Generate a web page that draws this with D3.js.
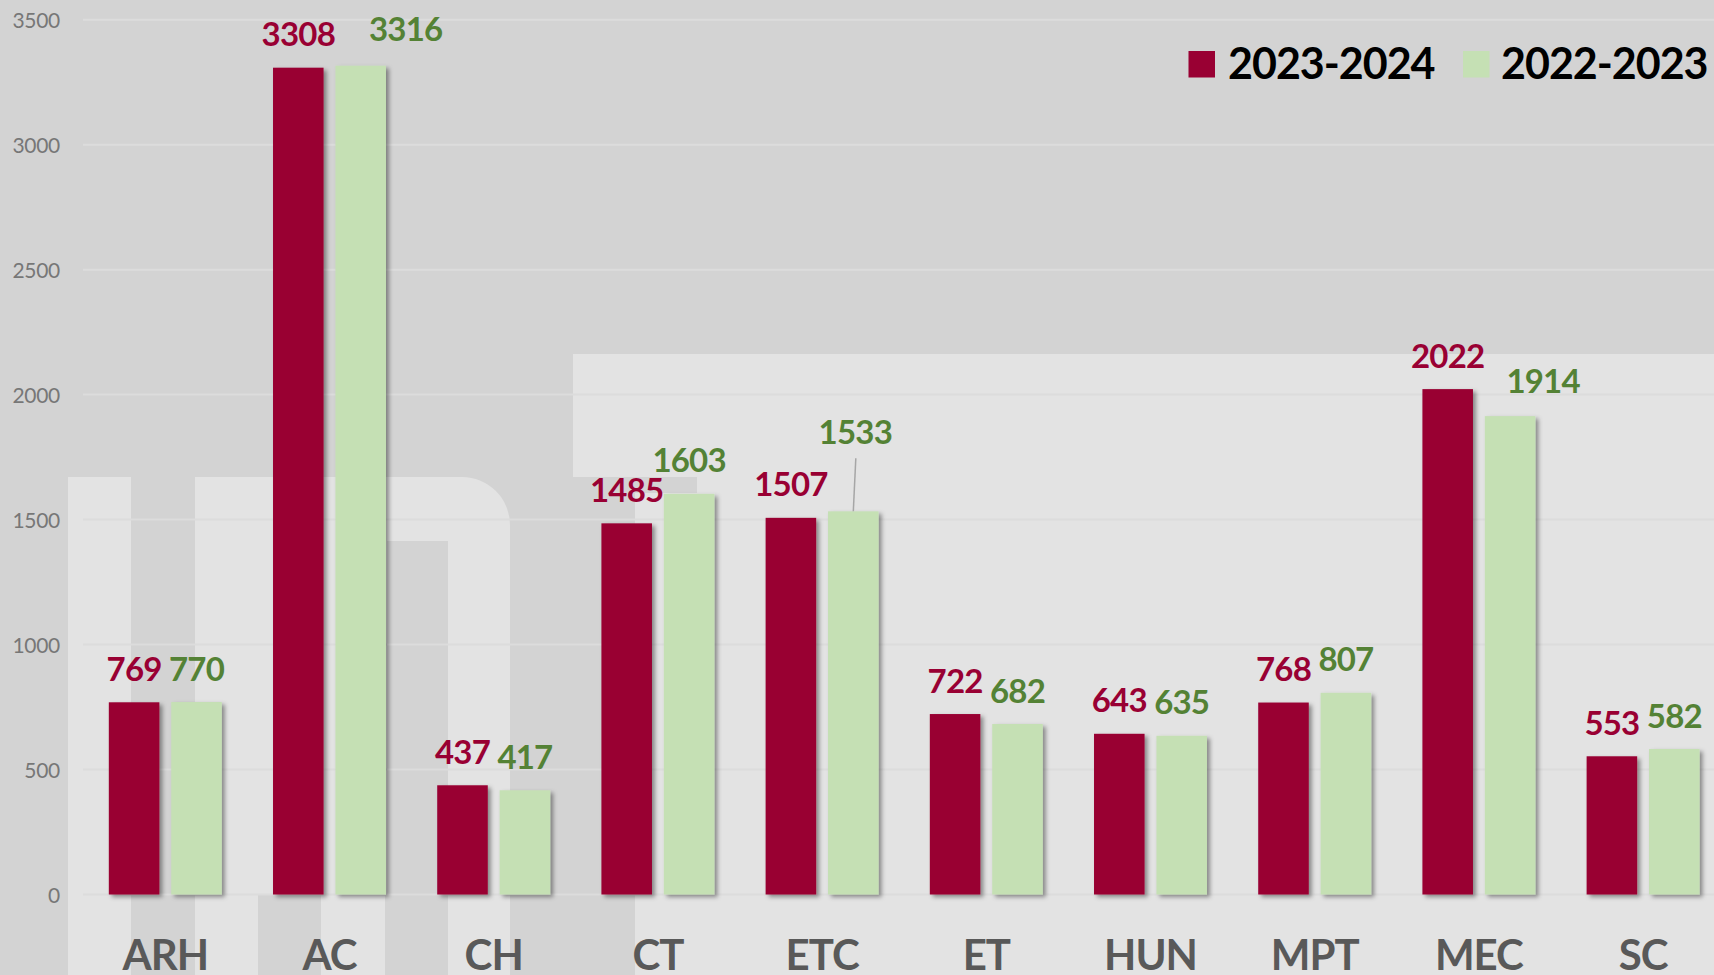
<!DOCTYPE html>
<html>
<head>
<meta charset="utf-8">
<script src="https://cdn.jsdelivr.net/npm/d3@7/dist/d3.min.js"></script>
<style>
  html, body { margin: 0; padding: 0; background: #d3d3d3; overflow: hidden; }
  svg { display: block; }
  text { font-family: Lato, "Open Sans", sans-serif; }
</style>
</head>
<body>
<svg id="chart" width="1714" height="975"></svg>
<script>
// ---- data ----
const categories = ["ARH", "AC", "CH", "CT", "ETC", "ET", "HUN", "MPT", "MEC", "SC"];
const seriesNames = ["2023-2024", "2022-2023"];
const values2324 = [769, 3308, 437, 1485, 1507, 722, 643, 768, 2022, 553];
const values2223 = [770, 3316, 417, 1603, 1533, 682, 635, 807, 1914, 582];
const yTicks = [0, 500, 1000, 1500, 2000, 2500, 3000, 3500];

const barColors = ["#990033", "#c5e0b4"];
const labelColors = ["#990033", "#548235"];

const W = 1714, H = 975;
const svg = d3.select("#chart");

// ---- background watermark ----
const bg = svg.append("g");
bg.append("rect").attr("width", W).attr("height", H).attr("fill", "#d3d3d3");
const light = "#e3e3e3";
bg.append("path").attr("fill", light)
  .attr("d", "M573,354 H1714 V975 H635 V493 H697 V477 H573 Z");
bg.append("rect").attr("x", 68).attr("y", 477).attr("width", 63).attr("height", 498).attr("fill", light);
bg.append("rect").attr("x", 195).attr("y", 477).attr("width", 63).attr("height", 498).attr("fill", light);
bg.append("path").attr("fill", light)
  .attr("d", "M258,477 H462 A48,48 0 0 1 510,525 V894 H258 Z");
bg.append("rect").attr("x", 387).attr("y", 541).attr("width", 61).attr("height", 353).attr("fill", "#d3d3d3");
bg.append("rect").attr("x", 321).attr("y", 894).attr("width", 64).attr("height", 81).attr("fill", light);
bg.append("rect").attr("x", 448).attr("y", 894).attr("width", 62).attr("height", 81).attr("fill", light);

// ---- scales ----
const x0 = d3.scaleBand().domain(categories).range([83.2, 1725.2])
  .paddingInner(0.312).paddingOuter(0.156);
const x1 = d3.scaleBand().domain([0, 1]).range([0, x0.bandwidth()]).paddingInner(0.19);
const y = d3.scaleLinear().domain([0, 3500]).range([894.5, 19.7]);

// ---- gridlines + y axis ----
const grid = svg.append("g");
grid.selectAll("line").data(yTicks).join("line")
  .attr("x1", 83).attr("x2", W)
  .attr("y1", d => y(d)).attr("y2", d => y(d))
  .attr("stroke", "#dcdcdc").attr("stroke-width", 2);

const yAxis = d3.axisLeft(y).tickValues(yTicks).tickFormat(d3.format("d")).tickSize(0).tickPadding(0);
const ya = svg.append("g").attr("transform", "translate(60,0)").call(yAxis);
ya.select(".domain").remove();
ya.selectAll("text")
  .attr("font-family", "Lato, sans-serif")
  .attr("font-size", 21).attr("fill", "#777777")
  .attr("letter-spacing", "-0.3")
  .attr("dy", "0.36em");

// ---- shadow filter ----
const defs = svg.append("defs");
const f = defs.append("filter").attr("id", "shadow")
  .attr("x", "-30%").attr("y", "-10%").attr("width", "160%").attr("height", "120%");
f.append("feDropShadow").attr("dx", 3).attr("dy", 2.5).attr("stdDeviation", 2.2)
  .attr("flood-color", "#000").attr("flood-opacity", 0.4);

// ---- bars ----
const rows = categories.map((c, i) => ({ cat: c, vals: [values2324[i], values2223[i]] }));
const groups = svg.append("g").selectAll("g").data(rows).join("g")
  .attr("transform", d => `translate(${x0(d.cat)},0)`);

groups.selectAll("rect").data(d => d.vals.map((v, s) => ({ v, s }))).join("rect")
  .attr("x", d => x1(d.s))
  .attr("width", x1.bandwidth())
  .attr("y", d => y(d.v))
  .attr("height", d => y(0) - y(d.v))
  .attr("fill", d => barColors[d.s])
  .attr("filter", "url(#shadow)");

// ---- value labels (a few were moved by hand in the original) ----
const labelNudge = {
  "AC|1": { dx: 45, dy: -3 },
  "MEC|1": { dx: 33, dy: -2 },
  "ETC|1": { dx: 2, dy: -46, leader: true }
};
const nudge = d => labelNudge[d.cat + "|" + d.s] || { dx: 0, dy: 0 };

groups.selectAll("text.val").data(d => d.vals.map((v, s) => ({ v, s, cat: d.cat }))).join("text")
  .attr("class", "val")
  .attr("x", d => x1(d.s) + x1.bandwidth() / 2 + nudge(d).dx)
  .attr("y", d => y(d.v) - 21.5 + nudge(d).dy)
  .attr("text-anchor", "middle")
  .attr("font-size", 33).attr("font-weight", 700)
  .attr("letter-spacing", "-0.8")
  .attr("fill", d => labelColors[d.s])
  .text(d => d.v);

// leader line for the raised label
groups.selectAll("line.leader")
  .data(d => d.vals.map((v, s) => ({ v, s, cat: d.cat })).filter(e => nudge(e).leader))
  .join("line")
  .attr("class", "leader")
  .attr("x1", d => x1(d.s) + x1.bandwidth() / 2 + 2.5).attr("y1", d => y(d.v) - 53)
  .attr("x2", d => x1(d.s) + x1.bandwidth() / 2).attr("y2", d => y(d.v))
  .attr("stroke", "#a6a6a6").attr("stroke-width", 1.5);

// ---- category axis ----
const xAxis = d3.axisBottom(x0).tickSize(0).tickPadding(0);
const xa = svg.append("g").attr("transform", "translate(0,970)").call(xAxis);
xa.select(".domain").remove();
xa.selectAll("text")
  .attr("font-family", "Lato, sans-serif")
  .attr("font-size", 42).attr("font-weight", 700)
  .attr("letter-spacing", "-1")
  .attr("fill", "#595959")
  .attr("dy", 0);

// ---- legend ----
const legendPos = [{ sx: 1188.5, tx: 1228 }, { sx: 1463, tx: 1501 }];
const lg = svg.append("g").selectAll("g").data(seriesNames).join("g");
lg.append("rect")
  .attr("x", (d, i) => legendPos[i].sx).attr("y", 51)
  .attr("width", 26.5).attr("height", 26.5)
  .attr("fill", (d, i) => barColors[i]);
lg.append("text")
  .attr("x", (d, i) => legendPos[i].tx).attr("y", 78.5)
  .attr("font-size", 43).attr("font-weight", 700)
  .attr("letter-spacing", "-1")
  .attr("fill", "#000")
  .text(d => d);
</script>
</body>
</html>
